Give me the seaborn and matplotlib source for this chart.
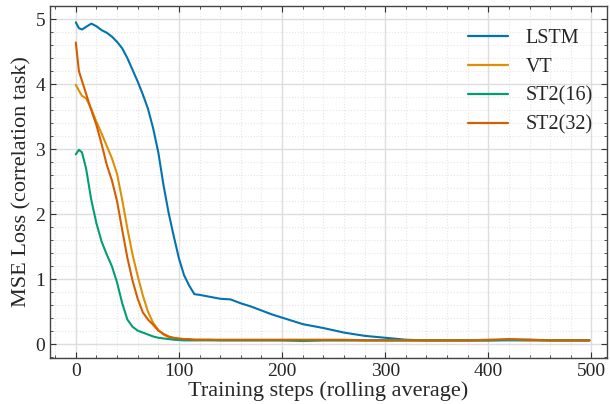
import numpy as np
import pandas as pd
import matplotlib
matplotlib.use("Agg")
import matplotlib.pyplot as plt
import seaborn as sns
from matplotlib.ticker import MultipleLocator

# training steps (sample points)
steps = [0, 3, 6, 10, 15, 20, 25, 30, 35, 40, 45, 50, 55, 60, 65, 70, 75, 80,
         85, 90, 95, 100, 105, 110, 115, 120, 130, 140, 150, 160, 170, 180,
         190, 200, 220, 240, 260, 280, 300, 320, 340, 360, 380, 400, 420,
         440, 460, 480, 498]

lstm = [4.95, 4.86, 4.84, 4.88, 4.93, 4.89, 4.83, 4.79, 4.73, 4.65, 4.55,
        4.40, 4.22, 4.04, 3.84, 3.62, 3.32, 2.95, 2.45, 2.02, 1.66, 1.32,
        1.06, 0.90, 0.77, 0.76, 0.73, 0.70, 0.69, 0.63, 0.58, 0.52, 0.46,
        0.41, 0.31, 0.25, 0.18, 0.13, 0.10, 0.07, 0.06, 0.06, 0.06, 0.06,
        0.06, 0.06, 0.06, 0.06, 0.06]

vt = [3.99, 3.90, 3.82, 3.78, 3.62, 3.42, 3.24, 3.05, 2.86, 2.62, 2.22,
      1.78, 1.38, 1.05, 0.75, 0.50, 0.33, 0.22, 0.15, 0.11, 0.09, 0.08,
      0.07, 0.07, 0.07, 0.07, 0.07, 0.06, 0.06, 0.06, 0.06, 0.06, 0.06,
      0.06, 0.06, 0.06, 0.06, 0.06, 0.06, 0.06, 0.06, 0.06, 0.06, 0.06,
      0.07, 0.06, 0.06, 0.06, 0.06]

st2_16 = [2.92, 2.99, 2.95, 2.70, 2.22, 1.86, 1.58, 1.38, 1.20, 0.95, 0.63,
          0.38, 0.27, 0.21, 0.18, 0.15, 0.12, 0.10, 0.09, 0.08, 0.07, 0.065,
          0.06, 0.06, 0.06, 0.06, 0.06, 0.06, 0.06, 0.06, 0.06, 0.06, 0.06,
          0.06, 0.05, 0.06, 0.06, 0.06, 0.06, 0.06, 0.06, 0.06, 0.06, 0.06,
          0.07, 0.07, 0.06, 0.06, 0.06]

st2_32 = [4.64, 4.20, 4.05, 3.85, 3.60, 3.37, 3.08, 2.76, 2.52, 2.20, 1.76,
          1.33, 0.98, 0.70, 0.49, 0.38, 0.30, 0.21, 0.16, 0.12, 0.10, 0.09,
          0.08, 0.08, 0.07, 0.07, 0.07, 0.07, 0.07, 0.07, 0.07, 0.07, 0.07,
          0.07, 0.07, 0.07, 0.07, 0.06, 0.06, 0.06, 0.06, 0.06, 0.06, 0.07,
          0.08, 0.07, 0.06, 0.06, 0.06]

models = ["LSTM", "VT", "ST2(16)", "ST2(32)"]
colors = ["#0173b2", "#de8f05", "#029e73", "#d55e00"]

frames = []
for name, vals in zip(models, [lstm, vt, st2_16, st2_32]):
    frames.append(pd.DataFrame({"step": steps, "loss": vals, "model": name}))
df = pd.concat(frames, ignore_index=True)

sns.set_style("ticks")
plt.rcParams["font.family"] = ["Liberation Serif", "DejaVu Serif"]

fig = plt.figure(figsize=(6.1, 4.04), dpi=100)
ax = fig.add_axes([0.082, 0.114, 0.913, 0.871])

sns.lineplot(data=df, x="step", y="loss", hue="model", hue_order=models,
             palette=dict(zip(models, colors)), linewidth=1.5, ax=ax)

ax.set_xlim(-25, 515)
ax.set_ylim(-0.21, 5.2)
ax.xaxis.set_major_locator(MultipleLocator(100))
ax.xaxis.set_minor_locator(MultipleLocator(20))
ax.yaxis.set_major_locator(MultipleLocator(1))
ax.yaxis.set_minor_locator(MultipleLocator(0.2))
ax.tick_params(which="both", direction="in", top=True, right=True,
               labelsize=14, color="#333333")
ax.tick_params(which="major", length=4, width=0.8)
ax.tick_params(which="minor", length=2, width=0.6)
ax.grid(which="major", color="#dddddd", linewidth=1.0)
ax.grid(which="minor", color="#e6e6e6", linestyle=":", linewidth=0.8)
ax.set_axisbelow(True)
for s in ax.spines.values():
    s.set_color("#444444")
    s.set_linewidth(1.0)

ax.set_xlabel("Training steps (rolling average)", fontsize=16, labelpad=1)
ax.set_ylabel("MSE Loss (correlation task)", fontsize=16, labelpad=3)

leg = ax.legend(frameon=False, fontsize=14.5, loc="upper right",
                handlelength=2.0, labelspacing=0.48, handletextpad=0.85,
                bbox_to_anchor=(1.0, 0.975), borderaxespad=0.3)
for line in leg.get_lines():
    line.set_linewidth(1.6)

fig.savefig("out.png", dpi=100)
